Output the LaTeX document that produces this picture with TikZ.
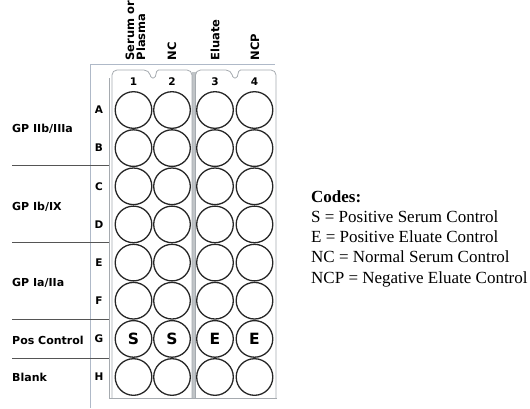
\documentclass[tikz,border=0pt]{standalone}
\usepackage{fontspec}
\setmainfont{Liberation Serif}
\newfontfamily\platefont{DejaVu Sans}

\definecolor{rulec}{RGB}{175,185,200}
\definecolor{sepc}{RGB}{85,85,85}
\definecolor{stripc}{RGB}{165,170,175}

\tikzset{%
  every node/.style={
    inner sep=1pt
  },
  well/.style={circle, draw=black!85, line width=1.3pt, minimum size=36.6pt,
    inner sep=0pt, font=\platefont\bfseries\fontsize{15.5}{15}\selectfont},
  grp/.style={anchor=west, font=\platefont\bfseries\fontsize{11}{13}\selectfont},
  rowlbl/.style={font=\platefont\bfseries\fontsize{10.5}{12}\selectfont},
  collbl/.style={font=\platefont\bfseries\fontsize{10.5}{12}\selectfont},
  head/.style={rotate=90, anchor=west, align=left,
    font=\platefont\bfseries\fontsize{11.5}{11}\selectfont},
  code/.style={anchor=base west, inner sep=0pt, font=\fontsize{17}{20}\selectfont},
  strip/.style={draw=stripc, line width=0.8pt},
  sepline/.style={draw=sepc, line width=1pt}
}

\begin{document}
\begin{tikzpicture}[x=1pt,y=-1pt]
      \useasboundingbox (0,0) rectangle (530,408);
      % frame lines
      \draw[rulec, line width=0.7pt] (90,64) -- (275,64);
      \draw[rulec, line width=0.7pt] (90,64) -- (90,408);
      \draw[sepline] (12,165) -- (109,165);
      \draw[sepline] (12,242) -- (109,242);
      \draw[sepline] (12,319) -- (109,319);
      \draw[sepline] (12,358) -- (109,358);
      % plate and strips
      \draw[strip] (109,78) -- (109,398) -- (277,398);
      \fill[stripc!70] (192,72) rectangle (195.5,398);
      \draw[strip, rounded corners=5pt] (112,398) -- (112,70) -- (149,70)
        [rounded corners=1.5pt] -- (151,78) -- (155,78) -- (157,70)
        [rounded corners=5pt] -- (192,70) [sharp corners] -- (192,398);
      \draw[strip, rounded corners=5pt] (195.5,398) -- (195.5,70) -- (231,70)
        [rounded corners=1.5pt] -- (233,78) -- (237,78) -- (239,70)
        [rounded corners=5pt] -- (276,70) [sharp corners] -- (276,398);
      % column headers
      \node[head] (h1) at (135.5,61.5) {Serum or\\Plasma};
      \node[head] (h2) at (172,61.5) {NC};
      \node[head] (h3) at (215,61.5) {Eluate};
      \node[head] (h4) at (255,61.5) {NCP};
      \node[collbl] (n1) at (133.5,82) {1};
      \node[collbl] (n2) at (172,82) {2};
      \node[collbl] (n3) at (215,82) {3};
      \node[collbl] (n4) at (254.5,82) {4};
      % row groups
      \node[grp] (g1) at (11,129) {GP IIb/IIIa};
      \node[grp] (g2) at (11,207) {GP Ib/IX};
      \node[grp] (g3) at (11,283) {GP Ia/IIa};
      \node[grp] (g4) at (11,340) {Pos Control};
      \node[grp] (g5) at (11,377) {Blank};
      % wells
      \foreach \r/\y in {A/110,B/148.1,C/186.3,D/224.4,E/262.6,F/300.7,G/338.9,H/377} {
        \node[rowlbl] (row\r) at (99,\y) {\r};
      }
      \foreach \r/\y in {A/110,B/148.1,C/186.3,D/224.4,E/262.6,F/300.7,H/377}
        \foreach \c/\x in {1/133.5,2/172,3/215,4/254.5}
          \node[well] (\r\c) at (\x,\y) {};
      \node[well] (G1) at (133.5,338.9) {S};
      \node[well] (G2) at (172,338.9) {S};
      \node[well] (G3) at (215,338.9) {E};
      \node[well] (G4) at (254.5,338.9) {E};
      % codes
      \node[code] (codes) at (311,202) {\textbf{Codes:}};
      \node[code] (cS) at (311,222.3) {S = Positive Serum Control};
      \node[code] (cE) at (311,242.5) {E = Positive Eluate Control};
      \node[code] (cNC) at (311,262.7) {NC = Normal Serum Control};
      \node[code] (cNCP) at (311,283) {NCP = Negative Eluate Control};
    \end{tikzpicture}
\end{document}
